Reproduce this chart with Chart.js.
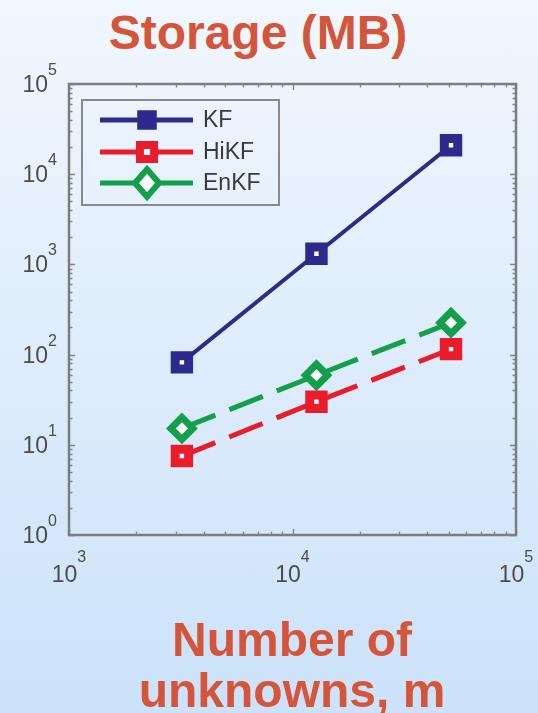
<!DOCTYPE html>
<html>
<head>
<meta charset="utf-8">
<script src="https://cdn.jsdelivr.net/npm/chart.js@4/dist/chart.umd.min.js"></script>
<style>
  html, body {
    margin: 0;
    padding: 0;
  }
  body {
    width: 538px;
    height: 713px;
    position: relative;
    overflow: hidden;
    background: linear-gradient(#f1f7fe, #cbe2fa);
    font-family: "Liberation Sans", Arial, sans-serif;
  }
  #chart {
    position: absolute;
    left: 0;
    top: 0;
  }
  .heading {
    position: absolute;
    font-weight: bold;
    font-size: 48px;
    color: #d5553b;
    text-align: center;
  }
  #title {
    left: 0;
    width: 516px;
    top: 9px;
    line-height: 48px;
  }
  #xlabel {
    left: 0;
    width: 584px;
    top: 614px;
    line-height: 51px;
  }
</style>
</head>
<body>
<div id="title" class="heading">Storage (MB)</div>
<canvas id="chart" width="538" height="713"></canvas>
<div id="xlabel" class="heading">Number of<br>unknowns, m</div>

<script>
// problem sizes and storage per filter
const unknowns = [3200, 12800, 51200];
const kfStorage = [82, 1311, 20972];
const hikfStorage = [7.5, 30, 115];
const enkfStorage = [15.2, 59, 226];
const seriesNames = ["KF", "HiKF", "EnKF"];

// decades shown on each axis
const xDecades = [3, 4, 5];
const yDecades = [0, 1, 2, 3, 4, 5];

const toPoints = (vals) => vals.map((v, i) => ({ x: unknowns[i], y: v }));

function marker(ctx, style, cx, cy, r, fill, stroke, lw) {
  ctx.beginPath();
  if (style === "rect") {
    const s = r * Math.SQRT1_2;
    ctx.rect(cx - s, cy - s, 2 * s, 2 * s);
  } else {
    ctx.moveTo(cx, cy - r * 1.15);
    ctx.lineTo(cx + r, cy);
    ctx.lineTo(cx, cy + r * 1.15);
    ctx.lineTo(cx - r, cy);
    ctx.closePath();
  }
  ctx.fillStyle = fill;
  ctx.fill();
  ctx.lineWidth = lw;
  ctx.strokeStyle = stroke;
  ctx.stroke();
}

// matlab style box, inward ticks and 10^n labels
const matlabAxes = {
  id: "matlabAxes",
  beforeDatasetsDraw(chart) {
    const { ctx, chartArea: a, scales } = chart;
    const xs = scales.x, ys = scales.y;
    ctx.save();
    ctx.strokeStyle = "#858585";
    ctx.lineWidth = 1.3;

    for (let p = xDecades[0]; p <= xDecades[xDecades.length - 1]; p++) {
      for (let k = 1; k <= 9; k++) {
        const v = k * Math.pow(10, p);
        if (v > xs.max) break;
        const px = Math.round(xs.getPixelForValue(v)) + 0.5;
        const len = k === 1 ? 6 : 3.5;
        ctx.beginPath();
        ctx.moveTo(px, a.bottom);
        ctx.lineTo(px, a.bottom - len);
        ctx.moveTo(px, a.top);
        ctx.lineTo(px, a.top + len);
        ctx.stroke();
      }
    }
    for (let p = yDecades[0]; p <= yDecades[yDecades.length - 1]; p++) {
      for (let k = 1; k <= 9; k++) {
        const v = k * Math.pow(10, p);
        if (v > ys.max) break;
        const py = Math.round(ys.getPixelForValue(v)) + 0.5;
        const len = k === 1 ? 6 : 3.5;
        ctx.beginPath();
        ctx.moveTo(a.left, py);
        ctx.lineTo(a.left + len, py);
        ctx.moveTo(a.right, py);
        ctx.lineTo(a.right - len, py);
        ctx.stroke();
      }
    }

    ctx.lineWidth = 2.5;
    ctx.strokeStyle = "#7d7d7d";
    ctx.strokeRect(a.left, a.top, a.right - a.left, a.bottom - a.top);

    const base = '23px "Liberation Sans", Arial, sans-serif';
    const sup = '16px "Liberation Sans", Arial, sans-serif';
    ctx.fillStyle = "#504b48";
    ctx.textBaseline = "alphabetic";
    ctx.textAlign = "left";

    yDecades.forEach((p) => {
      const py = ys.getPixelForValue(Math.pow(10, p));
      ctx.font = sup;
      const w2 = ctx.measureText(String(p)).width;
      ctx.font = base;
      const w1 = ctx.measureText("10").width;
      const right = a.left - 12;
      ctx.fillText("10", right - w2 - w1, py + 8);
      ctx.font = sup;
      ctx.fillText(String(p), right - w2, py - 9);
    });

    xDecades.forEach((p) => {
      const px = xs.getPixelForValue(Math.pow(10, p));
      ctx.font = sup;
      const w2 = ctx.measureText(String(p)).width;
      ctx.font = base;
      const w1 = ctx.measureText("10").width;
      const left = px - (w1 + w2) / 2;
      ctx.fillText("10", left, a.bottom + 47);
      ctx.font = sup;
      ctx.fillText(String(p), left + w1, a.bottom + 27);
    });
    ctx.restore();
  },
  afterDraw(chart) {
    const { ctx } = chart;
    ctx.save();
    ctx.strokeStyle = "#8a8a8a";
    ctx.lineWidth = 2;
    ctx.strokeRect(82, 100, 197, 105);

    const rows = [120, 152, 183];
    chart.data.datasets.forEach((ds, i) => {
      const y = rows[i];
      ctx.beginPath();
      ctx.setLineDash([]);
      ctx.lineWidth = 5;
      ctx.strokeStyle = ds.borderColor;
      ctx.moveTo(100, y);
      ctx.lineTo(193, y);
      ctx.stroke();
      if (i === 0) {
        marker(ctx, "rect", 147, y, 11, ds.borderColor, ds.borderColor, 4);
      } else if (ds.pointStyle === "rect") {
        marker(ctx, "rect", 147, y, 10, "#ffffff", ds.borderColor, 8);
      } else {
        marker(ctx, "diamond", 147, y, 12, "#ffffff", ds.borderColor, 6);
      }
      ctx.fillStyle = "#3a3a3a";
      ctx.font = '23px "Liberation Sans", Arial, sans-serif';
      ctx.textBaseline = "middle";
      ctx.textAlign = "left";
      ctx.fillText(ds.label, 203, y + 1);
    });
    ctx.restore();
  }
};

const ctx = document.getElementById("chart").getContext("2d");

new Chart(ctx, {
  type: "line",
  data: {
    datasets: [
      {
        label: seriesNames[0],
        data: toPoints(kfStorage),
        borderColor: "#2d2a8c",
        backgroundColor: "#ffffff",
        borderWidth: 4,
        pointStyle: "rect",
        pointRadius: 9.5,
        pointBorderWidth: 9,
      },
      {
        label: seriesNames[1],
        data: toPoints(hikfStorage),
        borderColor: "#e91c2c",
        backgroundColor: "#ffffff",
        borderWidth: 5,
        borderDash: [36, 15],
        pointStyle: "rect",
        pointRadius: 9.5,
        pointBorderWidth: 9,
      },
      {
        label: seriesNames[2],
        data: toPoints(enkfStorage),
        borderColor: "#14a04a",
        backgroundColor: "#ffffff",
        borderWidth: 5,
        borderDash: [36, 15],
        pointStyle: "rectRot",
        pointRadius: 11,
        pointBorderWidth: 7,
      },
    ],
  },
  options: {
    responsive: false,
    animation: false,
    devicePixelRatio: 1,
    layout: {
      padding: { left: 69, right: 22, top: 84, bottom: 178 },
    },
    scales: {
      x: {
        type: "logarithmic",
        min: 1000,
        max: 100000,
        display: false,
      },
      y: {
        type: "logarithmic",
        min: 1,
        max: 100000,
        display: false,
      },
    },
    plugins: {
      legend: { display: false },
      tooltip: { enabled: false },
    },
  },
  plugins: [matlabAxes],
});
</script>
</body>
</html>
